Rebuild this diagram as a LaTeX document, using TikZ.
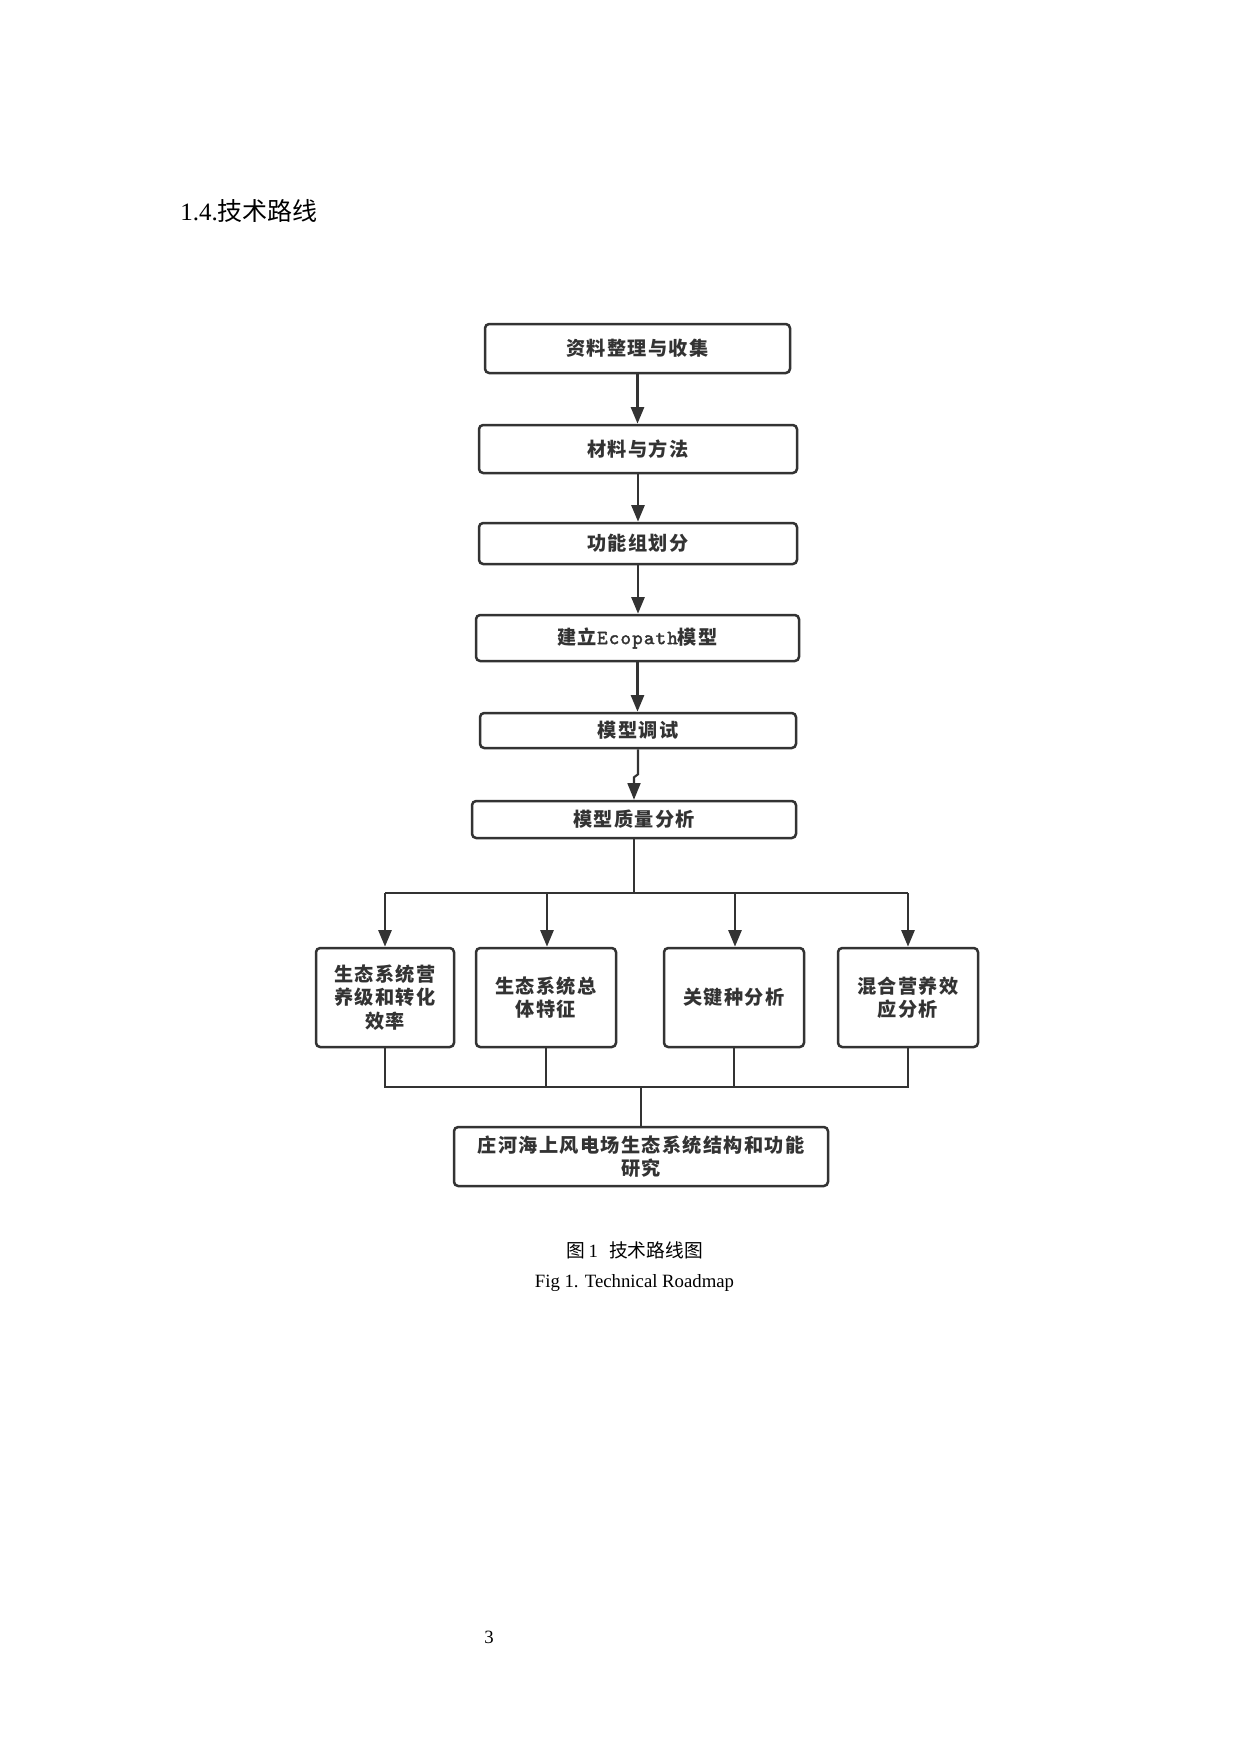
\documentclass[tikz,border=0pt]{standalone}
\usepackage{fontspec}
\setmainfont{Liberation Serif}
\newfontfamily\cjk{Noto Sans CJK SC}
\newfontfamily\cjkbox[LetterSpace=7]{Noto Sans CJK SC}
\newfontfamily\latbox[LetterSpace=6,FakeBold=2]{Latin Modern Mono}
\usetikzlibrary{arrows.meta}
\definecolor{ink}{HTML}{333333}
\tikzset{
  box/.style={draw=ink, line width=1.2pt, rounded corners=2pt, fill=white,
    text=ink, align=center, inner sep=0pt,
    font=\cjkbox\bfseries\fontsize{9.2}{11.3}\selectfont},
  conn/.style={draw=ink, line width=1.4pt},
  arr/.style={conn, -{Triangle[length=8pt,width=6.2pt]}},
}
\begin{document}
\begin{tikzpicture}[x=0.48pt,y=-0.48pt]
\useasboundingbox (0,0) rectangle (1240,1754);
\fill[white] (0,0) rectangle (1240,1754);

% heading
\node[anchor=base west, inner sep=0pt, font=\fontsize{12}{14}\selectfont] (head) at (180,220) {1.4.{\cjk 技术路线}};

% main chain
\node[box, minimum width=305*0.48pt, minimum height=49*0.48pt] (b1) at (637.5,348.5) {资料整理与收集};
\node[box, minimum width=318*0.48pt, minimum height=48*0.48pt] (b2) at (638,449) {材料与方法};
\node[box, minimum width=318*0.48pt, minimum height=41*0.48pt] (b3) at (638,543.5) {功能组划分};
\node[box, minimum width=323*0.48pt, minimum height=46*0.48pt] (b4) at (637.5,638) {建立{\latbox\mdseries\fontsize{9.6}{11.3}\selectfont Ecopath}模型};
\node[box, minimum width=316*0.48pt, minimum height=35*0.48pt] (b5) at (638,730.5) {模型调试};
\node[box, minimum width=324*0.48pt, minimum height=37*0.48pt] (b6) at (634,819.5) {模型质量分析};

% four analyses
\node[box, minimum width=138*0.48pt, minimum height=99*0.48pt] (a) at (385,997.5) {生态系统营\\养级和转化\\效率};
\node[box, minimum width=140*0.48pt, minimum height=99*0.48pt] (b) at (546,997.5) {生态系统总\\体特征};
\node[box, minimum width=140*0.48pt, minimum height=99*0.48pt] (c) at (734,997.5) {关键种分析};
\node[box, minimum width=140*0.48pt, minimum height=99*0.48pt] (d) at (908,997.5) {混合营养效\\应分析};

% final
\node[box, minimum width=374*0.48pt, minimum height=59*0.48pt] (f) at (641,1156.5) {庄河海上风电场生态系统结构和功能\\研究};

% connectors
\draw[arr] (b1.south) -- (b1.south |- b2.north);
\draw[arr] (b2.south) -- (b2.south |- b3.north);
\draw[arr] (b3.south) -- (b3.south |- b4.north);
\draw[arr] (b4.south) -- (b4.south |- b5.north);
\draw[arr, line width=1pt] (b5.south) -- ++(0,25) -- ++(-4,3) -- (b6.north);

\coordinate (split) at (634,893);
\draw[conn] (b6.south) -- (split);
\draw[conn] (split -| a) -- (split -| d);
\draw[arr] (split -| a) -- (a.north);
\draw[arr] ([xshift=1*0.48pt]split -| b) -- ([xshift=1*0.48pt]b.north);
\draw[arr] ([xshift=1*0.48pt]split -| c) -- ([xshift=1*0.48pt]c.north);
\draw[arr] (split -| d) -- (d.north);

\coordinate (join) at (641,1087);
\draw[conn] (a.south) -- (a.south |- join) -- (d.south |- join) -- (d.south);
\draw[conn] (b.south) -- (b.south |- join);
\draw[conn] (c.south) -- (c.south |- join);
\draw[conn, line width=1pt] (join) -- (f.north);

% caption
\node[anchor=base, inner sep=0pt, font=\fontsize{9}{11}\selectfont] (cap1) at (634.5,1257) {{\cjk 图}\hspace{0.2em}1\hspace{0.6em}{\cjk 技术路线图}};
\node[anchor=base, inner sep=0pt, font=\fontsize{9}{11}\selectfont] (cap2) at (634.5,1287) {Fig 1. Technical Roadmap};

% page number
\node[anchor=base, inner sep=0pt, font=\fontsize{9}{11}\selectfont] (pg) at (489,1643) {3};
\end{tikzpicture}
\end{document}
